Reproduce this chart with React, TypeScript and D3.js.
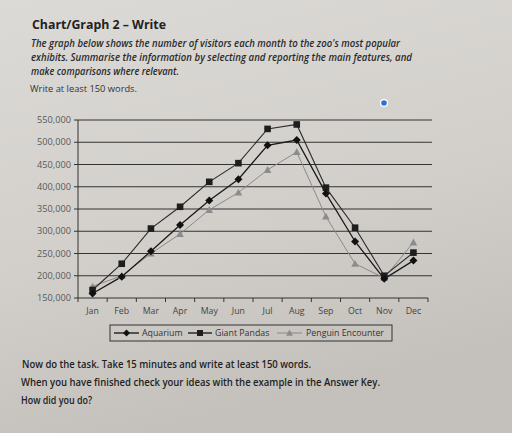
import React from "react";
import * as d3 from "d3";

const months = ["Jan", "Feb", "Mar", "Apr", "May", "Jun", "Jul", "Aug", "Sep", "Oct", "Nov", "Dec"];
const aquarium = [160000, 198000, 255000, 314000, 369000, 417000, 493000, 505000, 385000, 277000, 193000, 234000];
const giantPandas = [168000, 227000, 306000, 355000, 411000, 453000, 530000, 540000, 398000, 308000, 200000, 252000];
const penguin = [176000, 200000, 250000, 294000, 348000, 387000, 438000, 478000, 333000, 227000, 195000, 275000];
const yTicks = [150000, 200000, 250000, 300000, 350000, 400000, 450000, 500000, 550000];

const FONT = "'Open Sans', 'Noto Sans', sans-serif";

export default function App() {
  const W = 512, H = 433;
  const x = d3.scaleBand<string>().domain(months).range([78, 428]);
  const y = d3.scaleLinear().domain([150000, 550000]).range([298, 120]);
  const line = d3.line<number>().x((_, i) => (x(months[i]) as number) + x.bandwidth() / 2).y((d) => y(d));
  const cx = (i: number) => (x(months[i]) as number) + x.bandwidth() / 2;
  const fmt = d3.format(",");

  const diamond = (px: number, py: number, s: number, fill: string, key: string) => (
    <path key={key} d={`M${px},${py - s}L${px + s},${py}L${px},${py + s}L${px - s},${py}Z`} fill={fill} />
  );
  const square = (px: number, py: number, s: number, fill: string, key: string) => (
    <rect key={key} x={px - s} y={py - s} width={2 * s} height={2 * s} fill={fill} />
  );
  const tri = (px: number, py: number, s: number, fill: string, key: string) => (
    <path key={key} d={`M${px},${py - s}L${px + s},${py + s * 0.8}L${px - s},${py + s * 0.8}Z`} fill={fill} />
  );

  return (
    <svg width={W} height={H} style={{ position: "absolute", left: 0, top: 0 }} fontFamily={FONT}>
      <defs>
        <linearGradient id="paper" x1="0" y1="0" x2="0.3" y2="1">
          <stop offset="0" stopColor="#dcdad6" />
          <stop offset="0.6" stopColor="#d2cfcb" />
          <stop offset="1" stopColor="#c4c1bc" />
        </linearGradient>
      </defs>
      <rect x={0} y={0} width={W} height={H} fill="url(#paper)" />

      {/* Header text */}
      <text x={32} y={29} fontSize={13} fontWeight="bold" fill="#222" textLength={134} lengthAdjust="spacingAndGlyphs">Chart/Graph 2 – Write</text>
      <text x={31} y={47} fontSize={9.8} fontStyle="italic" fontWeight={600} fill="#2a2a2a" textLength={369} lengthAdjust="spacingAndGlyphs">The graph below shows the number of visitors each month to the zoo's most popular</text>
      <text x={31} y={61} fontSize={9.8} fontStyle="italic" fontWeight={600} fill="#2a2a2a" textLength={381} lengthAdjust="spacingAndGlyphs">exhibits. Summarise the information by selecting and reporting the main features, and</text>
      <text x={31} y={75} fontSize={9.8} fontStyle="italic" fontWeight={600} fill="#2a2a2a" textLength={148} lengthAdjust="spacingAndGlyphs">make comparisons where relevant.</text>
      <text x={30} y={92} fontSize={9.5} fill="#333" textLength={107} lengthAdjust="spacingAndGlyphs">Write at least 150 words.</text>

      {/* blue dot */}
      <circle cx={384} cy={103} r={4} fill="#fff" />
      <circle cx={384} cy={103} r={2.8} fill="#2f6fd6" />

      {/* Gridlines */}
      {yTicks.slice(1).map((t) => (
        <line key={"g" + t} x1={78} x2={432} y1={y(t)} y2={y(t)} stroke="#333" strokeWidth={1} />
      ))}
      {/* Axes */}
      <line x1={78} x2={78} y1={y(550000)} y2={y(150000)} stroke="#333" strokeWidth={1} />
      <line x1={78} x2={428} y1={y(150000)} y2={y(150000)} stroke="#333" strokeWidth={1} />
      {yTicks.map((t) => (
        <g key={"yt" + t}>
          <line x1={74} x2={78} y1={y(t)} y2={y(t)} stroke="#333" />
          <text x={71} y={y(t) + 3.2} fontSize={9.2} textAnchor="end" fill="#595959">{fmt(t)}</text>
        </g>
      ))}
      {months.map((m, i) => (
        <g key={"xt" + m}>
          <line x1={(x(m) as number)} x2={(x(m) as number)} y1={298} y2={302} stroke="#333" />
          <text x={cx(i)} y={314} fontSize={8.8} textAnchor="middle" fill="#444">{m}</text>
        </g>
      ))}
      <line x1={428} x2={428} y1={298} y2={302} stroke="#333" />

      {/* Series */}
      <path d={line(penguin) as string} fill="none" stroke="#8a8a8a" strokeWidth={1} />
      <path d={line(giantPandas) as string} fill="none" stroke="#2a2a2a" strokeWidth={1.1} />
      <path d={line(aquarium) as string} fill="none" stroke="#1a1a1a" strokeWidth={1.3} />
      {penguin.map((v, i) => tri(cx(i), y(v), 3.8, "#8c8c8c", "p" + i))}
      {giantPandas.map((v, i) => square(cx(i), y(v), 3.3, "#1e1e1e", "s" + i))}
      {aquarium.map((v, i) => diamond(cx(i), y(v), 4, "#111", "a" + i))}

      {/* Legend */}
      <rect x={110} y={325} width={282} height={16} fill="none" stroke="#333" strokeWidth={1} />
      <line x1={114} x2={139} y1={333} y2={333} stroke="#111" strokeWidth={1.3} />
      {diamond(126.5, 333, 3.5, "#111", "la")}
      <text x={142} y={336} fontSize={8.8} fill="#333">Aquarium</text>
      <line x1={188} x2={212} y1={333} y2={333} stroke="#111" strokeWidth={1.3} />
      {square(200, 333, 3, "#1e1e1e", "ls")}
      <text x={215} y={336} fontSize={8.8} fill="#333">Giant Pandas</text>
      <line x1={277} x2={302} y1={333} y2={333} stroke="#888" strokeWidth={1} />
      {tri(289.5, 333, 3.5, "#8c8c8c", "lp")}
      <text x={306} y={336} fontSize={8.8} fill="#333">Penguin Encounter</text>

      {/* Bottom text */}
      <text x={22} y={368} fontSize={10} fontWeight={600} fill="#222" textLength={289} lengthAdjust="spacingAndGlyphs">Now do the task. Take 15 minutes and write at least 150 words.</text>
      <text x={21} y={386} fontSize={10} fontWeight={600} fill="#222" textLength={359} lengthAdjust="spacingAndGlyphs">When you have finished check your ideas with the example in the Answer Key.</text>
      <text x={21} y={404} fontSize={10} fontWeight={600} fill="#222" textLength={71} lengthAdjust="spacingAndGlyphs">How did you do?</text>
    </svg>
  );
}
